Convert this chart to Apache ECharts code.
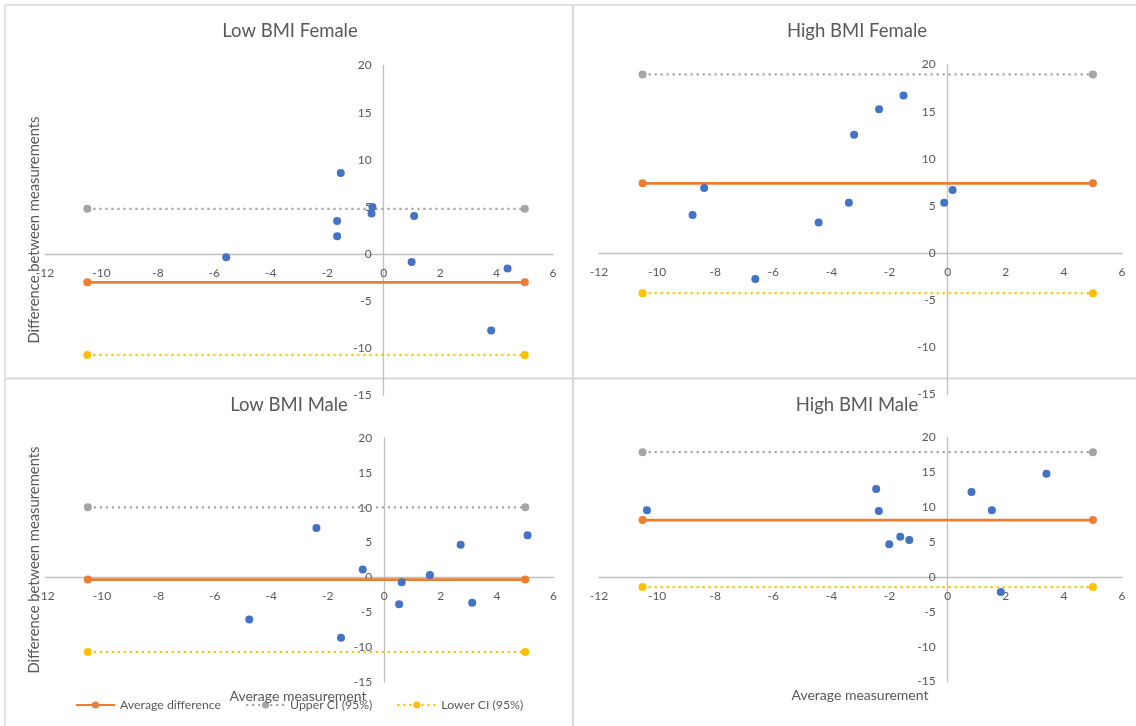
<!DOCTYPE html>
<html>
<head>
<meta charset="utf-8">
<title>Bland-Altman plots by BMI and sex</title>
<script src="https://cdn.jsdelivr.net/npm/echarts@6/dist/echarts.min.js"></script>
<style>
  html, body { margin: 0; padding: 0; background: #ffffff; }
  #chart { width: 1136px; height: 726px; }
</style>
</head>
<body>
<div id="chart"></div>
<script>
// Panel titles
const panelTitles = ['Low BMI Female', 'High BMI Female', 'Low BMI Male', 'High BMI Male'];

// Scatter points: average of the two measurements (x) and their difference (y)
const lowFemaleX  = [-1.52, -0.40, -0.43, -1.65, -1.65, 1.08, -5.58, 0.99, 4.39, 3.81];
const lowFemaleY  = [8.6, 5.0, 4.3, 3.5, 1.9, 4.05, -0.35, -0.85, -1.54, -8.1];
const highFemaleX = [-1.52, -2.36, -3.22, -8.38, -8.78, -6.62, -4.44, -3.40, -0.12, 0.17];
const highFemaleY = [16.7, 15.25, 12.55, 6.9, 4.05, -2.75, 3.25, 5.35, 5.35, 6.7];
const lowMaleX    = [-2.40, -0.76, 0.62, 1.62, 2.71, 5.08, 0.53, 3.12, -4.78, -1.53];
const lowMaleY    = [7.1, 1.15, -0.7, 0.35, 4.7, 6.05, -3.85, -3.65, -6.05, -8.65];
const highMaleX   = [-10.35, -2.46, -2.37, -2.01, -1.63, -1.32, 0.82, 1.52, 3.40, 1.83];
const highMaleY   = [9.55, 12.6, 9.45, 4.7, 5.75, 5.3, 12.2, 9.55, 14.8, -2.15];

// Reference lines per panel (same order as panelTitles)
const averageDifference = [-3.0, 7.4, -0.3, 8.15];
const upperCI = [4.8, 18.95, 10.05, 17.9];
const lowerCI = [-10.7, -4.25, -10.7, -1.45];

// Horizontal extent of the reference lines
const lineStartX = -10.5;
const lineEndX = 5.0;

// Axis scales
const xMin = -12, xMax = 6, xStep = 2;
const yMin = -15, yMax = 20, yStep = 5;

const seriesNames = ['Average difference', 'Upper CI (95%)', 'Lower CI (95%)'];
const axisTitleY = 'Difference between measurements';
const axisTitleX = 'Average measurement';

const pointsX = [lowFemaleX, highFemaleX, lowMaleX, highMaleX];
const pointsY = [lowFemaleY, highFemaleY, lowMaleY, highMaleY];

const FONT = 'Lato, "Open Sans", sans-serif';
const TEXT = '#595959';
const AXIS = '#bfbfbf';
const BORDER = '#d9d9d9';

// Plot-area boxes for the four panels
const grids = [
  { left: 45,  top: 65.5, width: 508, height: 330 },
  { left: 599, top: 64.5, width: 523, height: 330 },
  { left: 45.5, top: 438, width: 508, height: 244 },
  { left: 599, top: 437.5, width: 523, height: 244 }
];

const xAxes = [], yAxes = [], series = [];
grids.forEach((g, i) => {
  // Axes cross at the origin: shift each axis from the grid edge to zero
  const xShift = -g.height * (0 - yMin) / (yMax - yMin);
  const yShift = -g.width * (0 - xMin) / (xMax - xMin);
  xAxes.push({
    gridIndex: i, type: 'value', min: xMin, max: xMax, interval: xStep,
    position: 'bottom', offset: xShift,
    splitLine: { show: false }, axisTick: { show: false },
    axisLine: { onZero: false, lineStyle: { color: AXIS, width: 1.3 } },
    axisLabel: { color: TEXT, fontSize: 12, margin: 13, fontFamily: FONT, showMinLabel: true, showMaxLabel: true }
  });
  yAxes.push({
    gridIndex: i, type: 'value', min: yMin, max: yMax, interval: yStep,
    position: 'left', offset: yShift,
    splitLine: { show: false }, axisTick: { show: false },
    axisLine: { onZero: false, lineStyle: { color: AXIS, width: 1.3 } },
    axisLabel: { color: TEXT, fontSize: 12, margin: 12, fontFamily: FONT, showMinLabel: true, showMaxLabel: true }
  });

  const levels = [averageDifference[i], upperCI[i], lowerCI[i]];
  const colors = ['#ED7D31', '#A5A5A5', '#FFC000'];
  levels.forEach((v, k) => {
    series.push({
      name: seriesNames[k], type: 'line', xAxisIndex: i, yAxisIndex: i,
      data: [[lineStartX, v], [lineEndX, v]],
      symbol: 'circle', symbolSize: 8, showSymbol: true,
      itemStyle: { color: colors[k] },
      lineStyle: k === 0
        ? { color: colors[k], width: 2.75, type: 'solid' }
        : { color: colors[k], width: 2.2, type: [2.2, 3.8] },
      animation: false, silent: true
    });
  });

  series.push({
    name: 'Difference', type: 'scatter', xAxisIndex: i, yAxisIndex: i,
    data: pointsX[i].map((x, j) => [x, pointsY[i][j]]),
    symbol: 'circle', symbolSize: 8,
    itemStyle: { color: '#4472C4', opacity: 1 },
    animation: false, z: 5
  });
});

// Panel frames, titles and axis titles
const graphics = [
  { type: 'line', shape: { x1: 5, y1: 5, x2: 1136, y2: 5 }, style: { stroke: BORDER, lineWidth: 1.5 } },
  { type: 'line', shape: { x1: 5, y1: 5, x2: 5, y2: 726 }, style: { stroke: BORDER, lineWidth: 1.5 } },
  { type: 'line', shape: { x1: 573, y1: 5, x2: 573, y2: 726 }, style: { stroke: BORDER, lineWidth: 2 } },
  { type: 'line', shape: { x1: 5, y1: 378.5, x2: 1136, y2: 378.5 }, style: { stroke: BORDER, lineWidth: 2 } }
];
const titlePos = [[290, 31.5], [857, 31.5], [289, 405], [857, 405]];
panelTitles.forEach((t, i) => {
  graphics.push({
    type: 'text', x: titlePos[i][0], y: titlePos[i][1],
    style: { text: t, fill: TEXT, font: '18.5px ' + FONT, align: 'center', verticalAlign: 'middle' }
  });
});
[[34.5, 230], [34.5, 560]].forEach(p => {
  graphics.push({
    type: 'text', x: p[0], y: p[1], rotation: Math.PI / 2, z: 10,
    style: { text: axisTitleY, fill: TEXT, font: '14.8px ' + FONT, align: 'center', verticalAlign: 'middle' }
  });
});
[[298, 696], [860, 695]].forEach(p => {
  graphics.push({
    type: 'text', x: p[0], y: p[1], z: 10,
    style: { text: axisTitleX, fill: TEXT, font: '14px ' + FONT, align: 'center', verticalAlign: 'middle' }
  });
});

const chart = echarts.init(document.getElementById('chart'), null, { renderer: 'canvas' });
chart.setOption({
  backgroundColor: '#ffffff',
  animation: false,
  grid: grids.map(g => Object.assign({ containLabel: false }, g)),
  xAxis: xAxes,
  yAxis: yAxes,
  series: series,
  legend: {
    data: seriesNames,
    left: 75, top: 699, padding: 0,
    itemWidth: 39, itemHeight: 9, itemGap: 24,
    textStyle: { color: TEXT, fontSize: 12.3, fontFamily: FONT },
    selectedMode: false
  },
  graphic: graphics
});
</script>
</body>
</html>
